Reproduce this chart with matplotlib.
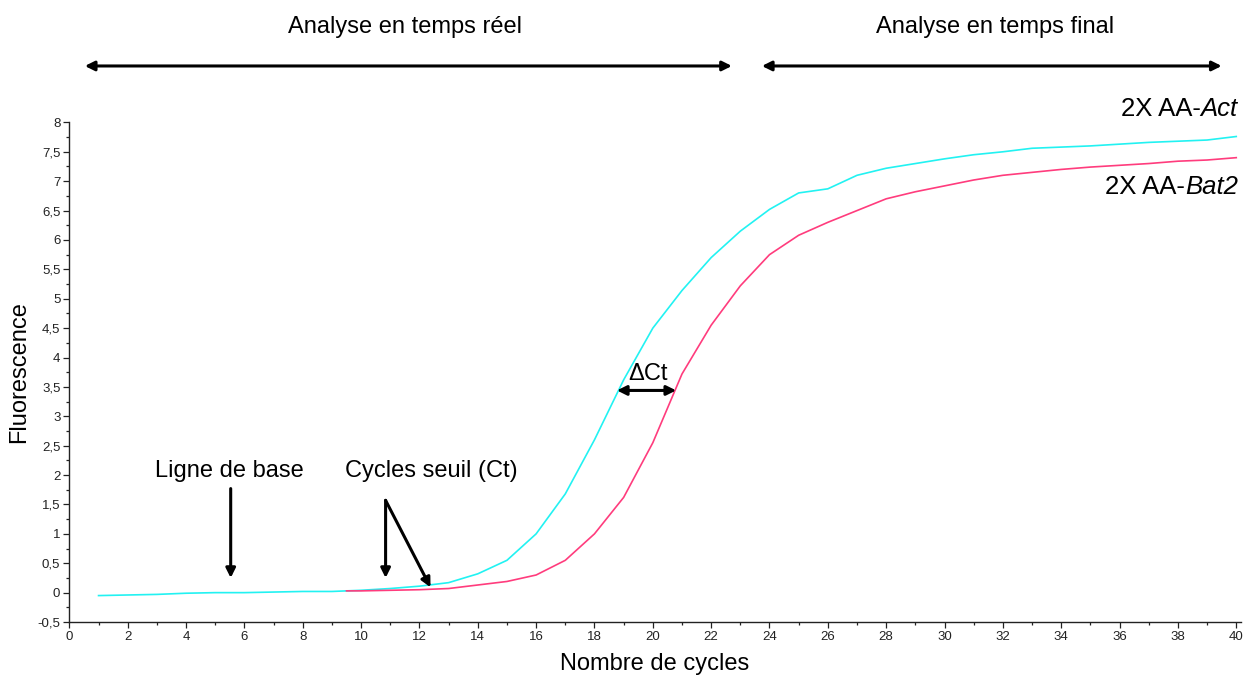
import matplotlib
matplotlib.use("Agg")
import matplotlib.pyplot as plt
from matplotlib.ticker import MultipleLocator, FuncFormatter

plt.rcParams["font.family"] = ["Liberation Sans", "DejaVu Sans"]

# qPCR amplification curves
act_cycles = list(range(1, 41))
act_fluo = [-0.05, -0.04, -0.03, -0.01, 0.0, 0.0, 0.01, 0.02, 0.02, 0.04,
            0.07, 0.11, 0.17, 0.32, 0.55, 1.0, 1.68, 2.6, 3.62, 4.5,
            5.14, 5.7, 6.15, 6.52, 6.8, 6.87, 7.1, 7.22, 7.3, 7.38,
            7.45, 7.5, 7.56, 7.58, 7.6, 7.63, 7.66, 7.68, 7.7, 7.76]

bat2_cycles = [9.5] + list(range(10, 41))
bat2_fluo = [0.03, 0.03, 0.04, 0.05, 0.07, 0.13, 0.19, 0.3, 0.55, 1.0,
             1.62, 2.55, 3.72, 4.55, 5.22, 5.75, 6.08, 6.3, 6.5, 6.7,
             6.82, 6.92, 7.02, 7.1, 7.15, 7.2, 7.24, 7.27, 7.3, 7.34,
             7.36, 7.4]

FS = 17
FS_CURVE = 18.5

fig = plt.figure(figsize=(12.5, 6.77), dpi=100)
ax = fig.add_axes([0.0555, 0.0812, 0.937, 0.738])

ax.plot(act_cycles, act_fluo, color="#22f2f2", linewidth=1.2)
ax.plot(bat2_cycles, bat2_fluo, color="#ff3c7d", linewidth=1.2)

ax.set_xlim(0, 40.15)
ax.set_ylim(-0.5, 8)
ax.xaxis.set_major_locator(MultipleLocator(2))
ax.xaxis.set_minor_locator(MultipleLocator(1))
ax.yaxis.set_major_locator(MultipleLocator(0.5))
ax.yaxis.set_minor_locator(MultipleLocator(0.25))
ax.yaxis.set_major_formatter(FuncFormatter(lambda v, _: f"{v:g}".replace(".", ",")))
ax.xaxis.set_major_formatter(FuncFormatter(lambda v, _: f"{v:g}"))

for side in ("top", "right"):
    ax.spines[side].set_visible(False)
for side in ("left", "bottom"):
    ax.spines[side].set_color("#222222")
    ax.spines[side].set_linewidth(1.0)

ax.tick_params(which="major", direction="out", length=4.5, width=0.9,
               labelsize=9.5, colors="#222222", pad=2)
ax.tick_params(which="minor", direction="out", length=2.5, width=0.9,
               colors="#222222")
for lab in ax.get_xticklabels() + ax.get_yticklabels():
    lab.set_family(["Liberation Sans Narrow", "Liberation Sans", "DejaVu Sans"])

ax.set_xlabel("Nombre de cycles", fontsize=FS, labelpad=7)
ax.set_ylabel("Fluorescence", fontsize=FS, labelpad=5)

# curve labels: plain prefix + italic gene name, right edge near x=40
t1 = ax.text(40.05, 8.22, "Act", fontsize=FS_CURVE, style="italic", ha="right", va="center")
ax.annotate("2X AA-", xy=(0, 0), xycoords=t1, fontsize=FS_CURVE,
            ha="right", va="bottom", annotation_clip=False)
t2 = ax.text(40.05, 6.9, "Bat2", fontsize=FS_CURVE, style="italic", ha="right", va="center")
ax.annotate("2X AA-", xy=(0, 0), xycoords=t2, fontsize=FS_CURVE,
            ha="right", va="bottom", annotation_clip=False)

# top double arrows
arrow_kw = dict(arrowstyle="<|-|>", color="black", lw=2.2, mutation_scale=14,
                shrinkA=0, shrinkB=0)
ax.annotate("", xy=(0.53, 8.96), xytext=(22.71, 8.96),
            arrowprops=arrow_kw, annotation_clip=False)
ax.annotate("", xy=(23.74, 8.96), xytext=(39.5, 8.96),
            arrowprops=arrow_kw, annotation_clip=False)
ax.text(11.5, 9.62, "Analyse en temps réel", fontsize=FS, ha="center", va="center")
ax.text(31.74, 9.62, "Analyse en temps final", fontsize=FS, ha="center", va="center")

# baseline and threshold arrows
one_kw = dict(arrowstyle="-|>", color="black", lw=2.2, mutation_scale=14,
              shrinkA=0, shrinkB=0)
ax.text(5.47, 2.07, "Ligne de base", fontsize=FS, ha="center", va="center")
ax.annotate("", xy=(5.53, 0.25), xytext=(5.53, 1.77), arrowprops=one_kw)

ax.text(12.4, 2.07, "Cycles seuil (Ct)", fontsize=FS, ha="center", va="center")
ax.annotate("", xy=(10.84, 0.25), xytext=(10.84, 1.57), arrowprops=one_kw)
ax.annotate("", xy=(12.38, 0.09), xytext=(10.84, 1.57), arrowprops=one_kw)

# delta Ct
ax.annotate("", xy=(18.77, 3.44), xytext=(20.8, 3.44), arrowprops=arrow_kw)
ax.text(19.83, 3.72, "ΔCt", fontsize=FS, ha="center", va="center")

fig.savefig("out.png", dpi=100)
